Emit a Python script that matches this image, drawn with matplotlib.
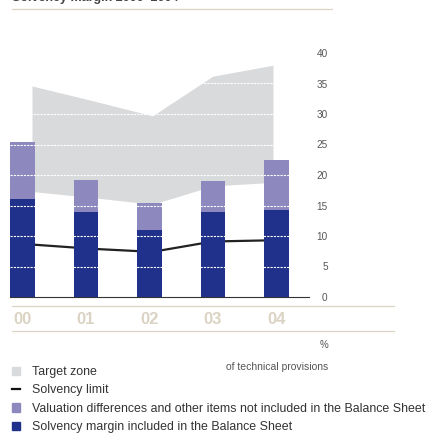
import matplotlib
matplotlib.use("Agg")
import matplotlib.pyplot as plt
from matplotlib.lines import Line2D
from matplotlib.patches import Patch

plt.rcParams['font.family'] = ['Liberation Sans', 'DejaVu Sans']

years = ["00", "01", "02", "03", "04"]
balance_sheet = [16.1, 13.9, 11.0, 13.9, 14.3]
valuation_diff = [9.3, 5.3, 4.4, 5.1, 8.2]
target_low = [17.3, 16.3, 15.2, 18.2, 18.8]
target_high = [34.6, 32.2, 29.7, 36.2, 38.0]
solvency_limit = [8.6, 7.9, 7.4, 9.1, 9.3]

DARK = "#1f318a"
LIGHT = "#8d88be"
ZONE = "#d9dadc"
BEIGE = "#dbd3c3"


def main():
    fig = plt.figure(figsize=(4.31, 4.34), dpi=100)
    W, H = 431.0, 434.0
    ax = fig.add_axes([10 / W, 1 - 297 / H, 299 / W, 244 / H])

    x = list(range(len(years)))
    ax.bar(x, balance_sheet, width=0.39, color=DARK, zorder=3)
    ax.bar(x, valuation_diff, width=0.39, bottom=balance_sheet, color=LIGHT, zorder=3)
    ax.set_xlim(-0.197, 4.512)
    ax.set_ylim(0, 40)

    # target zone and solvency limit sit on their own x scale
    ax2 = ax.twiny()
    ax2.fill_between(x, target_low, target_high, color=ZONE, lw=0, zorder=1)
    ax2.plot(x, solvency_limit, color="#222222", lw=1.6, zorder=4)
    ax2.set_xlim(-0.365, 4.598)
    ax2.set_ylim(0, 40)
    ax2.set_zorder(0)
    ax.set_zorder(1)
    ax.patch.set_visible(False)
    ax2.axis("off")

    for v in range(5, 40, 5):
        ax.axhline(v, color="white", lw=0.8, ls=(0, (2, 1)), zorder=5)

    for side in ["top", "left", "right"]:
        ax.spines[side].set_visible(False)
    ax.spines["bottom"].set_color("#333333")
    ax.spines["bottom"].set_linewidth(0.8)
    ax.set_xticks([])
    ax.yaxis.tick_right()
    ax.set_yticks(range(0, 45, 5))
    ax.tick_params(axis="y", length=0, pad=13.5, labelsize=7.2, labelcolor="#555555")
    for lbl in ax.get_yticklabels():
        lbl.set_horizontalalignment("right")

    # year labels between beige rules
    for i, yr in enumerate(years):
        px = 22.5 + 63.5 * i
        fig.text(px / W, 1 - 319 / H, yr, ha="center", va="center",
                 fontsize=12, fontweight="bold", color=BEIGE)
    fig.add_artist(Line2D([12 / W, 394 / W], [1 - 306 / H] * 2, color=BEIGE, lw=0.9))
    fig.add_artist(Line2D([12 / W, 394 / W], [1 - 331 / H] * 2, color=BEIGE, lw=0.9))
    fig.add_artist(Line2D([12 / W, 332 / W], [1 - 9 / H] * 2, color=BEIGE, lw=0.9))

    fig.text(12 / W, 1 - 1.5 / H, "Solvency margin 2000–2004", ha="left", va="baseline",
             fontsize=9, fontweight="bold", color="#444444")

    fig.text(328 / W, 1 - 345 / H, "%", ha="right", va="center", fontsize=7, color="#555555")
    fig.text(328 / W, 1 - 367 / H, "of technical provisions", ha="right", va="center",
             fontsize=7.5, color="#555555")

    handles = [
        Patch(color=ZONE),
        Line2D([0], [0], color="#111111", lw=1.6),
        Patch(color=LIGHT),
        Patch(color=DARK),
    ]
    labels = [
        "Target zone",
        "Solvency limit",
        "Valuation differences and other items not included in the Balance Sheet",
        "Solvency margin included in the Balance Sheet",
    ]
    fig.legend(handles, labels, loc="upper left", bbox_to_anchor=(12 / W, 1 - 366 / H),
               frameon=False, fontsize=8.9, handlelength=0.65, handleheight=0.65,
               handletextpad=1.0, labelspacing=0.52, borderpad=0, borderaxespad=0,
               labelcolor="#333333")

    fig.savefig("out.png", dpi=100)


if __name__ == "__main__":
    main()
